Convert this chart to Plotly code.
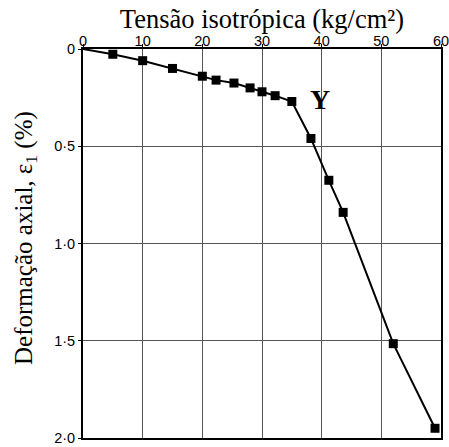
import plotly.graph_objects as go

x_vals = [0, 5, 10, 15, 20, 22.3, 25.3, 28, 30, 32.2, 35, 38.2, 41.2, 43.6, 52, 59]
y_vals = [0, 0.027, 0.06, 0.10, 0.14, 0.16, 0.175, 0.20, 0.22, 0.24, 0.27, 0.46, 0.675, 0.84, 1.515, 1.95]
has_marker = [False] + [True] * 15

x_ticks = [0, 10, 20, 30, 40, 50, 60]
y_ticks = [0, 0.5, 1.0, 1.5, 2.0]
y_tick_text = ["0", "0·5", "1·0", "1·5", "2·0"]

fig = go.Figure()
fig.add_trace(go.Scatter(x=x_vals, y=y_vals, mode="lines",
                         line=dict(color="black", width=2), showlegend=False))
fig.add_trace(go.Scatter(x=[x for x, m in zip(x_vals, has_marker) if m],
                         y=[y for y, m in zip(y_vals, has_marker) if m],
                         mode="markers",
                         marker=dict(symbol="square", size=9, color="black"),
                         showlegend=False))

fig.add_annotation(x=39.7, y=0.26, text="<b>Y</b>", showarrow=False,
                   font=dict(family="Liberation Serif", size=28, color="black"))

W, H = 449, 447
L, R, T, B = 83, 8, 49, 9
pw, ph = W - L - R, H - T - B

# y-axis title (centre at page x=25, y=238)
fig.add_annotation(xref="paper", yref="paper", x=(25 - L) / pw, y=1 - (238 - T) / ph,
                   xanchor="center", yanchor="middle", textangle=-90, showarrow=False,
                   text="Deformação axial, ε<sub>1</sub> (%)",
                   font=dict(family="Liberation Serif", size=25, color="black"))

fig.update_layout(
    width=W, height=H,
    margin=dict(l=L, r=R, t=T, b=B),
    paper_bgcolor="white", plot_bgcolor="white",
    title=dict(text="Tensão isotrópica (kg/cm²)", xref="paper", x=0.5, xanchor="center",
               yref="container", y=1 - 19 / H, yanchor="middle",
               font=dict(family="Liberation Serif", size=26.5, color="black")),
    xaxis=dict(side="top", range=[0, 60], tickvals=x_ticks, automargin=False,
               ticklabeloverflow="allow", ticklabelstandoff=-8,
               showgrid=True, gridcolor="#555", gridwidth=1.2,
               showline=True, linecolor="black", linewidth=2, mirror=True,
               ticks="outside", ticklen=3, tickcolor="black", zeroline=False,
               tickfont=dict(family="Liberation Sans", size=14.5, color="black")),
    yaxis=dict(range=[2, 0], tickvals=y_ticks, ticktext=y_tick_text, automargin=False,
               ticklabeloverflow="allow",
               showgrid=True, gridcolor="#555", gridwidth=1.2,
               showline=True, linecolor="black", linewidth=2, mirror=True,
               ticks="outside", ticklen=3, tickcolor="black", zeroline=False,
               tickfont=dict(family="Liberation Sans", size=14.5, color="black")),
)

fig.write_html("out.html", config={"displayModeBar": False},
               post_script="document.body.style.margin='0';document.body.style.overflow='hidden';")
